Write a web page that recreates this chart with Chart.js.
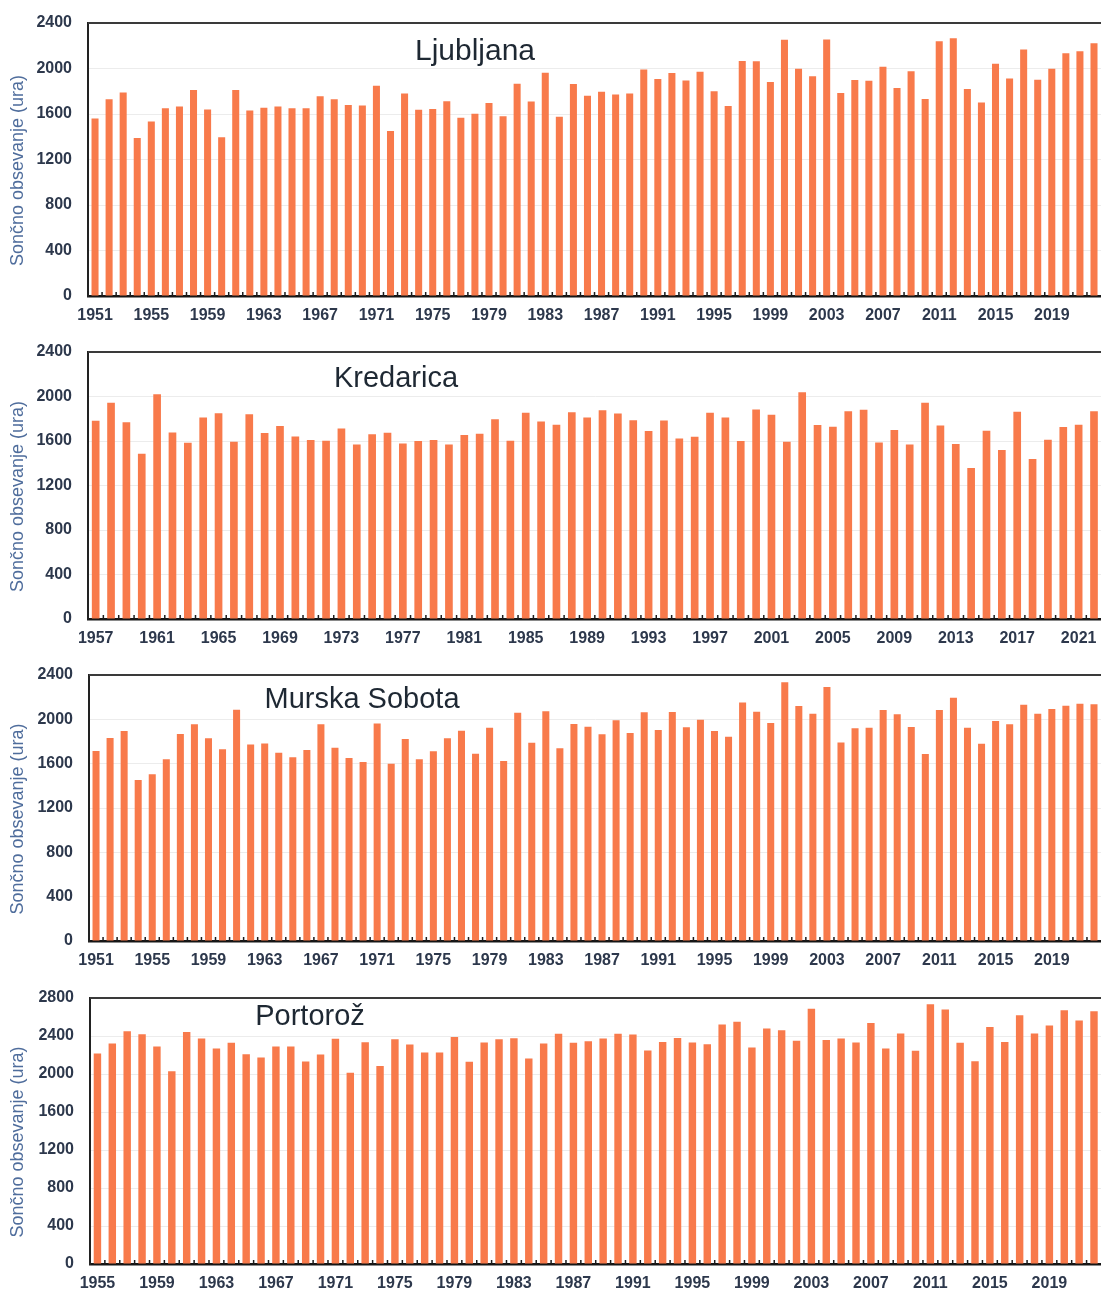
<!DOCTYPE html>
<html lang="sl">
<head>
<meta charset="UTF-8">
<title>Sončno obsevanje</title>
<script src="https://cdn.jsdelivr.net/npm/chart.js"></script>
<style>
    html, body { margin: 0; padding: 0; background: #fff; width: 1101px; height: 1294px; overflow: hidden; }
    canvas { position: absolute; left: 0; }
</style>
</head>
<body>
<canvas id="ljubljana"></canvas>
<canvas id="kredarica"></canvas>
<canvas id="murska"></canvas>
<canvas id="portoroz"></canvas>
<script>
// leta (kategorije)
const years = [
    1951, 1952, 1953, 1954, 1955, 1956, 1957, 1958, 1959, 1960,
    1961, 1962, 1963, 1964, 1965, 1966, 1967, 1968, 1969, 1970,
    1971, 1972, 1973, 1974, 1975, 1976, 1977, 1978, 1979, 1980,
    1981, 1982, 1983, 1984, 1985, 1986, 1987, 1988, 1989, 1990,
    1991, 1992, 1993, 1994, 1995, 1996, 1997, 1998, 1999, 2000,
    2001, 2002, 2003, 2004, 2005, 2006, 2007, 2008, 2009, 2010,
    2011, 2012, 2013, 2014, 2015, 2016, 2017, 2018, 2019, 2020,
    2021, 2022
];
const yearsLjubljana = years;
const yearsKredarica = years.slice(6);   // od 1957
const yearsMurska = years;
const yearsPortoroz = years.slice(4);    // od 1955

// letno sončno obsevanje (ure)
const ljubljana = [
    1560, 1730, 1790, 1390, 1535, 1650, 1665, 1810, 1640, 1395,
    1810, 1630, 1655, 1665, 1650, 1650, 1755, 1730, 1680, 1675,
    1848, 1450, 1780, 1637, 1643, 1713, 1567, 1602, 1696, 1581,
    1866, 1710, 1963, 1575, 1863, 1760, 1796, 1772, 1781, 1992,
    1907, 1960, 1895, 1972, 1799, 1670, 2065, 2063, 1881, 2253,
    1998, 1931, 2256, 1784, 1898, 1892, 2016, 1828, 1975, 1731,
    2239, 2265, 1819, 1702, 2042, 1913, 2168, 1901, 1998, 2133,
    2151, 2221
];
const kredarica = [
    1781, 1943, 1769, 1486,
    2021, 1677, 1584, 1811, 1850, 1593, 1841, 1671, 1734, 1641,
    1608, 1602, 1713, 1569, 1660, 1674, 1578, 1599, 1608, 1569,
    1653, 1665, 1796, 1602, 1853, 1775, 1746, 1859, 1811, 1877,
    1847, 1787, 1689, 1784, 1623, 1638, 1853, 1811, 1599, 1883,
    1835, 1593, 2038, 1743, 1728, 1868, 1880, 1587, 1698, 1569,
    1943, 1740, 1572, 1357, 1692, 1518, 1862, 1438, 1611, 1725,
    1746, 1868
];
const murskaSobota = [
    1714, 1832, 1895, 1453, 1504, 1639, 1868, 1955, 1829, 1729,
    2087, 1774, 1783, 1699, 1657, 1723, 1955, 1744, 1651, 1615,
    1962, 1600, 1823, 1639, 1711, 1829, 1898, 1690, 1925, 1624,
    2060, 1789, 2072, 1738, 1958, 1934, 1865, 1991, 1877, 2063,
    1904, 2066, 1928, 1997, 1895, 1843, 2153, 2069, 1967, 2334,
    2120, 2051, 2292, 1792, 1919, 1925, 2084, 2045, 1931, 1687,
    2084, 2195, 1925, 1780, 1985, 1955, 2132, 2051, 2093, 2123,
    2141, 2135
];
const portoroz = [
    2216, 2321, 2450, 2419, 2289, 2030,
    2443, 2373, 2268, 2328, 2209, 2174, 2289, 2289, 2132, 2205,
    2370, 2013, 2335, 2085, 2366, 2310, 2226, 2226, 2390, 2128,
    2331, 2366, 2376, 2163, 2321, 2425, 2328, 2345, 2373, 2425,
    2415, 2247, 2338, 2380, 2331, 2313, 2520, 2550, 2279, 2478,
    2461, 2349, 2688, 2359, 2373, 2331, 2538, 2268, 2426, 2244,
    2734, 2678, 2328, 2135, 2496, 2338, 2618, 2426, 2510, 2671,
    2562, 2660
];

// oznake na osi y
const yTicks = [0, 400, 800, 1200, 1600, 2000, 2400];
const yTicksPortoroz = [0, 400, 800, 1200, 1600, 2000, 2400, 2800];
const xLabelEvery = 4;
const yTitle = 'Sončno obsevanje (ura)';

const barColor = '#f87a4b';
const tickColor = '#2d384c';
const fontName = "'Liberation Sans', Arial, sans-serif";
const padTop = 26;      // prostor nad risalno ploskvijo
const xAxisHeight = 30;

// okvir, notranje oznake, ime postaje in naslov osi y
const framePlugin = {
    id: 'frame',
    afterDraw(chart, args, opts) {
        const { ctx, chartArea: a } = chart;
        const n = chart.data.labels.length;
        const slot = (a.right - a.left) / n;
        ctx.save();
        ctx.strokeStyle = '#3a3a3a';
        ctx.lineWidth = 2;
        ctx.beginPath();
        ctx.moveTo(a.left, a.top);
        ctx.lineTo(a.right, a.top);
        ctx.stroke();

        ctx.strokeStyle = '#1c1c1c';
        ctx.lineWidth = 1.5;
        for (let i = 1; i < n; i++) {
            const x = a.left + i * slot;
            ctx.beginPath();
            ctx.moveTo(x, a.bottom);
            ctx.lineTo(x, a.bottom - 4);
            ctx.stroke();
        }

        ctx.fillStyle = '#1e2833';
        ctx.font = opts.titleSize + 'px ' + fontName;
        ctx.textAlign = 'center';
        ctx.textBaseline = 'alphabetic';
        ctx.fillText(opts.title, opts.titleX, a.top + opts.titleDy);

        ctx.translate(18, (a.top + a.bottom) / 2 + 11);
        ctx.rotate(-Math.PI / 2);
        ctx.fillStyle = '#4f6d9c';
        ctx.font = '18px ' + fontName;
        ctx.textBaseline = 'middle';
        ctx.fillText(yTitle, 0, 0);
        ctx.restore();
    }
};

function makeChart(id, labels, values, ticks, style) {
    const canvas = document.getElementById(id);
    canvas.width = 1104;
    canvas.height = padTop + style.areaHeight + xAxisHeight;
    canvas.style.top = (style.areaTop - padTop) + 'px';

    const config = {
        type: 'bar',
        data: {
            labels: labels,
            datasets: [{
                data: values,
                backgroundColor: barColor,
                barPercentage: 0.5,
                categoryPercentage: 1
            }]
        },
        options: {
            responsive: false,
            animation: false,
            layout: { padding: { top: padTop, left: 0, right: 0, bottom: 0 } },
            plugins: {
                legend: { display: false },
                tooltip: { enabled: false },
                frame: style
            },
            scales: {
                x: {
                    afterFit: s => { s.height = xAxisHeight; },
                    grid: { display: true, drawOnChartArea: false, drawTicks: false },
                    border: { color: '#161616', width: 2.5 },
                    ticks: {
                        autoSkip: false,
                        maxRotation: 0,
                        padding: 10,
                        color: tickColor,
                        font: { family: fontName, size: 16, weight: 'bold' },
                        callback: (v, i) => i % xLabelEvery === 0 ? labels[i] : ''
                    }
                },
                y: {
                    min: ticks[0],
                    max: ticks[ticks.length - 1],
                    afterFit: s => { s.width = style.axisLeft; },
                    afterBuildTicks: s => { s.ticks = ticks.map(v => ({ value: v })); },
                    grid: { color: '#ececec', lineWidth: 1, drawTicks: false },
                    border: { color: '#222', width: 2 },
                    ticks: {
                        padding: 16,
                        color: tickColor,
                        font: { family: fontName, size: 16, weight: 'bold' },
                        callback: v => String(v)
                    }
                }
            }
        },
        plugins: [framePlugin]
    };
    return new Chart(canvas.getContext('2d'), config);
}

makeChart('ljubljana', yearsLjubljana, ljubljana, yTicks,
    { title: 'Ljubljana', titleSize: 30, titleX: 475, titleDy: 37, axisLeft: 88, areaTop: 23, areaHeight: 273 });
makeChart('kredarica', yearsKredarica, kredarica, yTicks,
    { title: 'Kredarica', titleSize: 29, titleX: 396, titleDy: 35, axisLeft: 88, areaTop: 352, areaHeight: 267 });
makeChart('murska', yearsMurska, murskaSobota, yTicks,
    { title: 'Murska Sobota', titleSize: 29, titleX: 362, titleDy: 33, axisLeft: 89, areaTop: 675, areaHeight: 266 });
makeChart('portoroz', yearsPortoroz, portoroz, yTicksPortoroz,
    { title: 'Portorož', titleSize: 29, titleX: 310, titleDy: 27, axisLeft: 90, areaTop: 998, areaHeight: 266 });
</script>
</body>
</html>
